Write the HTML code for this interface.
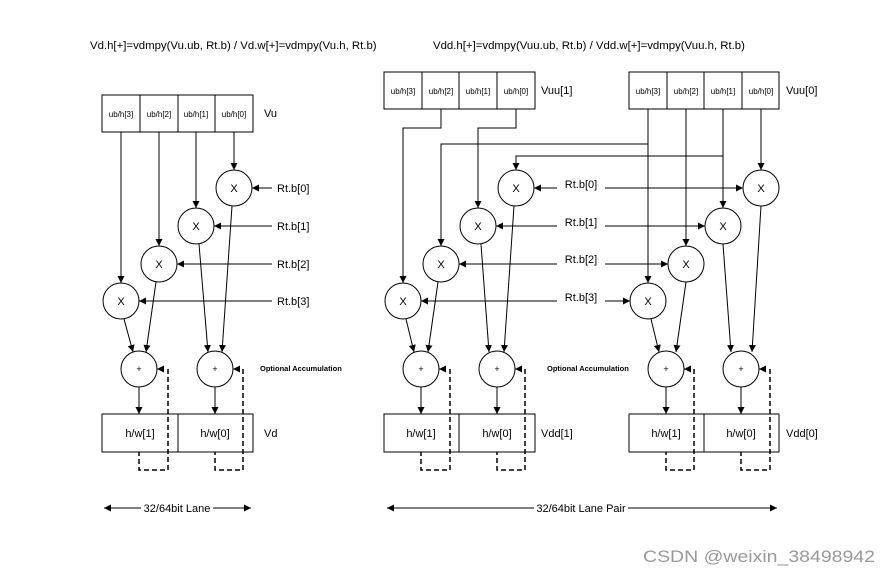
<!DOCTYPE html>
<html><head><meta charset="utf-8"><style>
html,body{margin:0;padding:0;background:#fff;}
svg{display:block;font-family:"Liberation Sans",sans-serif;}
</style></head><body>
<svg width="889" height="576" viewBox="0 0 889 576" xmlns="http://www.w3.org/2000/svg">
<defs>
<marker id="a" viewBox="0 0 10 10" refX="10" refY="5" markerWidth="7" markerHeight="7" orient="auto-start-reverse" markerUnits="userSpaceOnUse"><path d="M0,0L10,5L0,10z" fill="#000"/></marker>
</defs>
<g font-size="11.4" fill="#000">
<text x="90" y="49">Vd.h[+]=vdmpy(Vu.ub, Rt.b) / Vd.w[+]=vdmpy(Vu.h, Rt.b)</text>
<text x="433" y="49">Vdd.h[+]=vdmpy(Vuu.ub, Rt.b) / Vdd.w[+]=vdmpy(Vuu.h, Rt.b)</text>
</g>
<g stroke="#000" stroke-width="1" fill="none">
<!-- LEFT -->
<rect x="102" y="95" width="151" height="37"/>
<line x1="140" y1="95" x2="140" y2="132"/><line x1="178" y1="95" x2="178" y2="132"/><line x1="215" y1="95" x2="215" y2="132"/>
<rect x="102" y="414" width="151" height="38"/><line x1="178" y1="414" x2="178" y2="452"/>
<circle cx="234" cy="188" r="18"/><circle cx="196" cy="226" r="18"/><circle cx="159" cy="264" r="18"/><circle cx="121" cy="301" r="18"/>
<circle cx="139" cy="369" r="18"/><circle cx="215" cy="369" r="18"/>
<g marker-end="url(#a)">
<line x1="121" y1="132" x2="121" y2="283"/><line x1="159" y1="132" x2="159" y2="246"/>
<line x1="196" y1="132" x2="196" y2="208"/><line x1="234" y1="132" x2="234" y2="170"/>
<line x1="272" y1="188" x2="252" y2="188"/><line x1="272" y1="226" x2="214" y2="226"/>
<line x1="272" y1="264" x2="177" y2="264"/><line x1="272" y1="301" x2="139" y2="301"/>
<line x1="124" y1="319" x2="133" y2="352"/><line x1="156" y1="282" x2="146" y2="352"/>
<line x1="199" y1="244" x2="208" y2="352"/><line x1="232" y1="206" x2="222" y2="352"/>
<line x1="139" y1="387" x2="139" y2="414"/><line x1="215" y1="387" x2="215" y2="414"/>
<line x1="164" y1="369" x2="157" y2="369"/><line x1="240" y1="369" x2="233" y2="369"/>
</g>
<g stroke-dasharray="5,3" stroke-width="1.5">
<polyline points="168,369 168,470 139,470 139,452"/>
<polyline points="243,369 243,470 215,470 215,452"/>
</g>
<line x1="104" y1="508" x2="141" y2="508" marker-start="url(#a)"/>
<line x1="213" y1="508" x2="251" y2="508" marker-end="url(#a)"/>
<!-- RIGHT -->
<rect x="384" y="72" width="151" height="37"/>
<line x1="422" y1="72" x2="422" y2="109"/><line x1="459" y1="72" x2="459" y2="109"/><line x1="497" y1="72" x2="497" y2="109"/>
<rect x="629" y="72" width="150" height="37"/>
<line x1="667" y1="72" x2="667" y2="109"/><line x1="704" y1="72" x2="704" y2="109"/><line x1="742" y1="72" x2="742" y2="109"/>
<rect x="384" y="414" width="151" height="38"/><line x1="459" y1="414" x2="459" y2="452"/>
<rect x="629" y="414" width="150" height="38"/><line x1="704" y1="414" x2="704" y2="452"/>
<circle cx="516" cy="188" r="18"/><circle cx="478" cy="226" r="18"/><circle cx="441" cy="264" r="18"/><circle cx="403" cy="301" r="18"/>
<circle cx="761" cy="188" r="18"/><circle cx="723" cy="226" r="18"/><circle cx="686" cy="264" r="18"/><circle cx="648" cy="301" r="18"/>
<circle cx="421" cy="369" r="18"/><circle cx="497" cy="369" r="18"/><circle cx="666" cy="369" r="18"/><circle cx="741" cy="369" r="18"/>
<g marker-end="url(#a)">
<polyline points="441,109 441,128 403,128 403,283"/>
<polyline points="516,109 516,128 478,128 478,208"/>
<line x1="648" y1="109" x2="648" y2="283"/>
<polyline points="648,144 441,144 441,246"/>
<line x1="723" y1="109" x2="723" y2="208"/>
<polyline points="723,156 516,156 516,170"/>
<line x1="686" y1="109" x2="686" y2="246"/>
<line x1="761" y1="109" x2="761" y2="170"/>
<line x1="557" y1="188" x2="534" y2="188"/><line x1="557" y1="226" x2="496" y2="226"/>
<line x1="557" y1="264" x2="459" y2="264"/><line x1="557" y1="301" x2="421" y2="301"/>
<line x1="605" y1="188" x2="743" y2="188"/><line x1="605" y1="226" x2="705" y2="226"/>
<line x1="605" y1="264" x2="668" y2="264"/><line x1="605" y1="301" x2="630" y2="301"/>
<line x1="406" y1="319" x2="414" y2="352"/><line x1="438" y1="282" x2="428" y2="352"/>
<line x1="481" y1="244" x2="489" y2="352"/><line x1="514" y1="206" x2="504" y2="352"/>
<line x1="651" y1="319" x2="659" y2="352"/><line x1="686" y1="282" x2="676" y2="352"/>
<line x1="723" y1="244" x2="731" y2="352"/><line x1="761" y1="206" x2="752" y2="352"/>
<line x1="421" y1="387" x2="421" y2="414"/><line x1="497" y1="387" x2="497" y2="414"/>
<line x1="666" y1="387" x2="666" y2="414"/><line x1="741" y1="387" x2="741" y2="414"/>
<line x1="446" y1="369" x2="439" y2="369"/><line x1="521" y1="369" x2="515" y2="369"/>
<line x1="690" y1="369" x2="684" y2="369"/><line x1="766" y1="369" x2="759" y2="369"/>
</g>
<g stroke-dasharray="5,3" stroke-width="1.5">
<polyline points="450,369 450,470 421,470 421,452"/>
<polyline points="525,369 525,470 497,470 497,452"/>
<polyline points="694,369 694,470 666,470 666,452"/>
<polyline points="770,369 770,470 741,470 741,452"/>
</g>
<line x1="387" y1="508" x2="534" y2="508" marker-start="url(#a)"/>
<line x1="628" y1="508" x2="777" y2="508" marker-end="url(#a)"/>
</g>
<g font-size="8" text-anchor="middle" fill="#000">
<text x="121" y="117">ub/h[3]</text><text x="159" y="117">ub/h[2]</text><text x="196" y="117">ub/h[1]</text><text x="234" y="117">ub/h[0]</text>
<text x="403" y="94">ub/h[3]</text><text x="441" y="94">ub/h[2]</text><text x="478" y="94">ub/h[1]</text><text x="516" y="94">ub/h[0]</text>
<text x="648" y="94">ub/h[3]</text><text x="686" y="94">ub/h[2]</text><text x="723" y="94">ub/h[1]</text><text x="761" y="94">ub/h[0]</text>
</g>
<g font-size="11" text-anchor="middle" fill="#000">
<text x="234" y="192">X</text><text x="196" y="230">X</text><text x="159" y="268">X</text><text x="121" y="305">X</text>
<text x="516" y="192">X</text><text x="478" y="230">X</text><text x="441" y="268">X</text><text x="403" y="305">X</text>
<text x="761" y="192">X</text><text x="723" y="230">X</text><text x="686" y="268">X</text><text x="648" y="305">X</text>
<text x="581" y="188">Rt.b[0]</text><text x="581" y="226">Rt.b[1]</text><text x="581" y="263">Rt.b[2]</text><text x="581" y="301">Rt.b[3]</text>
<text x="140" y="437">h/w[1]</text><text x="215" y="437">h/w[0]</text>
<text x="421" y="437">h/w[1]</text><text x="497" y="437">h/w[0]</text>
<text x="666" y="437">h/w[1]</text><text x="741" y="437">h/w[0]</text>
<text x="177" y="512">32/64bit Lane</text>
<text x="581" y="512">32/64bit Lane Pair</text>
</g>
<g font-size="9" text-anchor="middle" fill="#000">
<text x="139" y="372">+</text><text x="215" y="372">+</text><text x="421" y="372">+</text><text x="497" y="372">+</text><text x="666" y="372">+</text><text x="741" y="372">+</text>
</g>
<g font-size="11" fill="#000">
<text x="277" y="192">Rt.b[0]</text><text x="277" y="230">Rt.b[1]</text><text x="277" y="268">Rt.b[2]</text><text x="277" y="305">Rt.b[3]</text>
<text x="264" y="117">Vu</text><text x="264" y="437">Vd</text>
<text x="541" y="94">Vuu[1]</text><text x="786" y="94">Vuu[0]</text>
<text x="541" y="437">Vdd[1]</text><text x="786" y="437">Vdd[0]</text>
</g>
<g font-size="7.5" fill="#000" font-weight="bold">
<text x="260" y="371">Optional Accumulation</text>
<text x="547" y="371">Optional Accumulation</text>
</g>
<text x="643" y="562" font-size="17" fill="#999" textLength="232" lengthAdjust="spacingAndGlyphs">CSDN @weixin_38498942</text>
</svg>
</body></html>
